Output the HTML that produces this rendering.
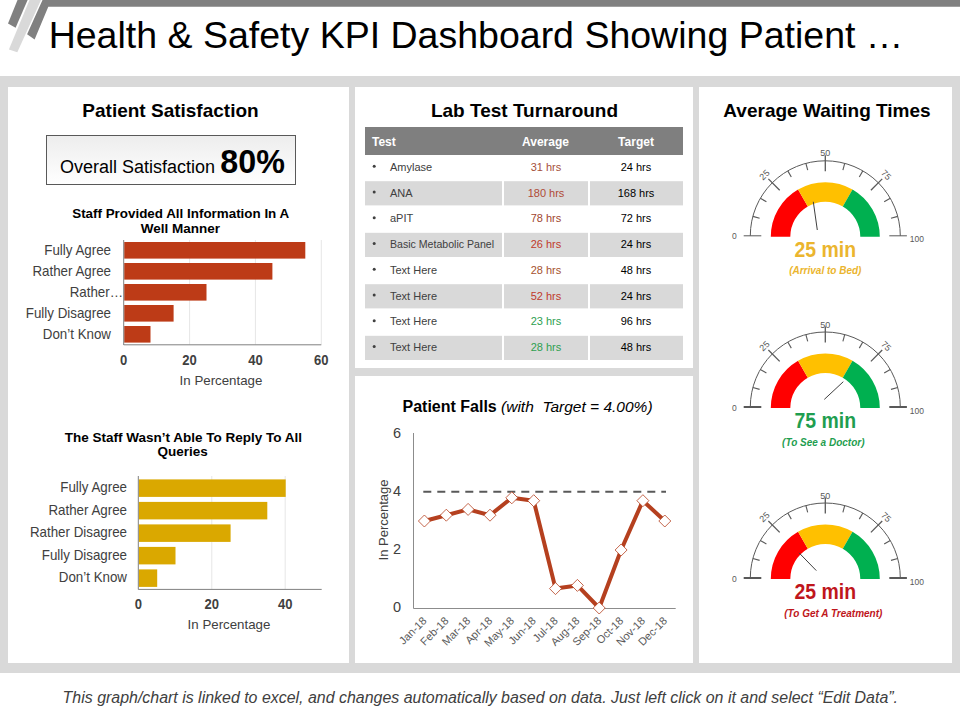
<!DOCTYPE html>
<html><head><meta charset="utf-8"><style>html,body{margin:0;padding:0;background:#fff;width:960px;height:720px;overflow:hidden}svg{display:block}text{font-family:"Liberation Sans",sans-serif}</style></head>
<body><svg width="960" height="720" viewBox="0 0 960 720">
<polygon points="17.5,0 27.6,0 15.6,27.7 8,23.4" fill="#808080"/>
<polygon points="29.5,0 41,0 17.3,52.2 8.9,49.5" fill="#D9D9D9"/>
<polygon points="42.5,0 960,0 960,6.7 48.3,6.7 34.6,39.6 27.1,34.2" fill="#808080"/>
<text x="48.7" y="47.5"  font-size="37.5" fill="#000">Health &amp; Safety KPI Dashboard Showing Patient …</text>
<rect x="0" y="76" width="960" height="597" fill="#D9D9D9"/>
<rect x="8" y="87" width="341" height="576" fill="#fff"/>
<rect x="355" y="87" width="338" height="281" fill="#fff"/>
<rect x="355" y="376" width="338" height="287" fill="#fff"/>
<rect x="699" y="87" width="253" height="576" fill="#fff"/>
<text x="62.6" y="702.5"  font-size="15.94" font-style="italic" fill="#404040">This graph/chart is linked to excel, and changes automatically based on data. Just left click on it and select “Edit Data”.</text>
<text x="170.5" y="117"  font-size="19" font-weight="bold" text-anchor="middle" fill="#000">Patient Satisfaction</text>
<defs><linearGradient id="g1" x1="0" y1="0" x2="0" y2="1"><stop offset="0" stop-color="#EDEDED"/><stop offset="1" stop-color="#FFFFFF"/></linearGradient></defs>
<rect x="46.5" y="135.5" width="249" height="49" fill="url(#g1)" stroke="#595959" stroke-width="1"/>
<text x="60" y="173"  font-size="18" fill="#000">Overall Satisfaction</text>
<text transform="translate(220.3,173.3) scale(0.95,1)" x="0" y="0"  font-size="34" font-weight="bold" fill="#000">80%</text>
<text x="180.7" y="218.4"  font-size="13.4" font-weight="bold" text-anchor="middle" fill="#000">Staff Provided All Information In A</text>
<text x="180.3" y="233"  font-size="13.5" font-weight="bold" text-anchor="middle" fill="#000">Well Manner</text>
<line x1="189.6" y1="240" x2="189.6" y2="344.5" stroke="#E6E6E6" stroke-width="1"/>
<line x1="255.4" y1="240" x2="255.4" y2="344.5" stroke="#E6E6E6" stroke-width="1"/>
<line x1="321.3" y1="240" x2="321.3" y2="344.5" stroke="#E6E6E6" stroke-width="1"/>
<rect x="124.2" y="242.0" width="181.1" height="16.6" fill="#BD3B17"/>
<text transform="translate(111.0,254.7) scale(0.94,1)" x="0" y="0"  font-size="14.2" text-anchor="end" fill="#404040">Fully Agree</text>
<rect x="124.2" y="263.0" width="148.2" height="16.6" fill="#BD3B17"/>
<text transform="translate(111.0,275.8) scale(0.94,1)" x="0" y="0"  font-size="14.2" text-anchor="end" fill="#404040">Rather Agree</text>
<rect x="124.2" y="284.0" width="82.3" height="16.6" fill="#BD3B17"/>
<text transform="translate(123.0,297.0) scale(0.94,1)" x="0" y="0"  font-size="14.2" text-anchor="end" fill="#404040">Rather…</text>
<rect x="124.2" y="305.0" width="49.4" height="16.6" fill="#BD3B17"/>
<text transform="translate(111.0,318.1) scale(0.94,1)" x="0" y="0"  font-size="14.2" text-anchor="end" fill="#404040">Fully Disagree</text>
<rect x="124.2" y="326.0" width="26.3" height="16.6" fill="#BD3B17"/>
<text transform="translate(111.0,339.3) scale(0.94,1)" x="0" y="0"  font-size="14.2" text-anchor="end" fill="#404040">Don’t Know</text>
<line x1="123.7" y1="240" x2="123.7" y2="345" stroke="#808080" stroke-width="1"/>
<line x1="123.7" y1="344.8" x2="321.3" y2="344.8" stroke="#808080" stroke-width="1"/>
<text transform="translate(123.7,365.3) scale(0.9,1)" x="0" y="0"  font-size="14.5" font-weight="bold" text-anchor="middle" fill="#404040">0</text>
<text transform="translate(189.6,365.3) scale(0.9,1)" x="0" y="0"  font-size="14.5" font-weight="bold" text-anchor="middle" fill="#404040">20</text>
<text transform="translate(255.4,365.3) scale(0.9,1)" x="0" y="0"  font-size="14.5" font-weight="bold" text-anchor="middle" fill="#404040">40</text>
<text transform="translate(321.3,365.3) scale(0.9,1)" x="0" y="0"  font-size="14.5" font-weight="bold" text-anchor="middle" fill="#404040">60</text>
<text x="221" y="385"  font-size="13.3" text-anchor="middle" fill="#404040">In Percentage</text>
<text x="183.4" y="441.8"  font-size="13.5" font-weight="bold" text-anchor="middle" fill="#000">The Staff Wasn’t Able To Reply To All</text>
<text x="182.7" y="456.1"  font-size="13.5" font-weight="bold" text-anchor="middle" fill="#000">Queries</text>
<line x1="211.8" y1="476" x2="211.8" y2="589" stroke="#E6E6E6" stroke-width="1"/>
<line x1="285.2" y1="476" x2="285.2" y2="589" stroke="#E6E6E6" stroke-width="1"/>
<rect x="138.8" y="479.4" width="146.9" height="17.5" fill="#DAA800"/>
<text transform="translate(127.0,492.1) scale(0.94,1)" x="0" y="0"  font-size="14.2" text-anchor="end" fill="#404040">Fully Agree</text>
<rect x="138.8" y="501.9" width="128.5" height="17.5" fill="#DAA800"/>
<text transform="translate(127.0,514.7) scale(0.94,1)" x="0" y="0"  font-size="14.2" text-anchor="end" fill="#404040">Rather Agree</text>
<rect x="138.8" y="524.4" width="91.8" height="17.5" fill="#DAA800"/>
<text transform="translate(127.0,537.2) scale(0.94,1)" x="0" y="0"  font-size="14.2" text-anchor="end" fill="#404040">Rather Disagree</text>
<rect x="138.8" y="546.9" width="36.7" height="17.5" fill="#DAA800"/>
<text transform="translate(127.0,559.8) scale(0.94,1)" x="0" y="0"  font-size="14.2" text-anchor="end" fill="#404040">Fully Disagree</text>
<rect x="138.8" y="569.4" width="18.4" height="17.5" fill="#DAA800"/>
<text transform="translate(127.0,582.4) scale(0.94,1)" x="0" y="0"  font-size="14.2" text-anchor="end" fill="#404040">Don’t Know</text>
<line x1="138.3" y1="476" x2="138.3" y2="589.5" stroke="#808080" stroke-width="1"/>
<line x1="138.3" y1="589.4" x2="321.7" y2="589.4" stroke="#808080" stroke-width="1"/>
<text transform="translate(138.3,609.3) scale(0.9,1)" x="0" y="0"  font-size="14.5" font-weight="bold" text-anchor="middle" fill="#404040">0</text>
<text transform="translate(211.8,609.3) scale(0.9,1)" x="0" y="0"  font-size="14.5" font-weight="bold" text-anchor="middle" fill="#404040">20</text>
<text transform="translate(285.2,609.3) scale(0.9,1)" x="0" y="0"  font-size="14.5" font-weight="bold" text-anchor="middle" fill="#404040">40</text>
<text x="229" y="629"  font-size="13.3" text-anchor="middle" fill="#404040">In Percentage</text>
<text x="524.5" y="117"  font-size="19" font-weight="bold" text-anchor="middle" fill="#000">Lab Test Turnaround</text>
<rect x="365" y="127" width="318" height="28" fill="#7F7F7F"/>
<text x="372" y="145.5"  font-size="12" font-weight="bold" fill="#fff">Test</text>
<text x="545.5" y="145.5"  font-size="12" font-weight="bold" text-anchor="middle" fill="#fff">Average</text>
<text x="636" y="145.5"  font-size="12" font-weight="bold" text-anchor="middle" fill="#fff">Target</text>
<circle cx="374.2" cy="166.3" r="1.5" fill="#404040"/>
<text x="390" y="170.9"  font-size="11" fill="#404040" >Amylase</text>
<text x="546" y="170.9"  font-size="11" text-anchor="middle" fill="#A5503A">31 hrs</text>
<text x="636" y="170.9"  font-size="11" text-anchor="middle" fill="#000">24 hrs</text>
<rect x="365" y="181.2" width="137" height="24.2" fill="#D9D9D9"/>
<rect x="504" y="181.2" width="84" height="24.2" fill="#D9D9D9"/>
<rect x="590" y="181.2" width="93" height="24.2" fill="#D9D9D9"/>
<circle cx="374.2" cy="192.1" r="1.5" fill="#404040"/>
<text x="390" y="196.6"  font-size="11" fill="#404040" >ANA</text>
<text x="546" y="196.6"  font-size="11" text-anchor="middle" fill="#B04A36">180 hrs</text>
<text x="636" y="196.6"  font-size="11" text-anchor="middle" fill="#000">168 hrs</text>
<circle cx="374.2" cy="217.8" r="1.5" fill="#404040"/>
<text x="390" y="222.4"  font-size="11" fill="#404040" >aPIT</text>
<text x="546" y="222.4"  font-size="11" text-anchor="middle" fill="#A0462E">78 hrs</text>
<text x="636" y="222.4"  font-size="11" text-anchor="middle" fill="#000">72 hrs</text>
<rect x="365" y="232.8" width="137" height="24.2" fill="#D9D9D9"/>
<rect x="504" y="232.8" width="84" height="24.2" fill="#D9D9D9"/>
<rect x="590" y="232.8" width="93" height="24.2" fill="#D9D9D9"/>
<circle cx="374.2" cy="243.6" r="1.5" fill="#404040"/>
<text x="390" y="248.1"  font-size="11" fill="#404040" textLength='104' lengthAdjust='spacingAndGlyphs'>Basic Metabolic Panel</text>
<text x="546" y="248.1"  font-size="11" text-anchor="middle" fill="#C0392B">26 hrs</text>
<text x="636" y="248.1"  font-size="11" text-anchor="middle" fill="#000">24 hrs</text>
<circle cx="374.2" cy="269.3" r="1.5" fill="#404040"/>
<text x="390" y="273.9"  font-size="11" fill="#404040" >Text Here</text>
<text x="546" y="273.9"  font-size="11" text-anchor="middle" fill="#A5522E">28 hrs</text>
<text x="636" y="273.9"  font-size="11" text-anchor="middle" fill="#000">48 hrs</text>
<rect x="365" y="284.2" width="137" height="24.2" fill="#D9D9D9"/>
<rect x="504" y="284.2" width="84" height="24.2" fill="#D9D9D9"/>
<rect x="590" y="284.2" width="93" height="24.2" fill="#D9D9D9"/>
<circle cx="374.2" cy="295.1" r="1.5" fill="#404040"/>
<text x="390" y="299.6"  font-size="11" fill="#404040" >Text Here</text>
<text x="546" y="299.6"  font-size="11" text-anchor="middle" fill="#C0392B">52 hrs</text>
<text x="636" y="299.6"  font-size="11" text-anchor="middle" fill="#000">24 hrs</text>
<circle cx="374.2" cy="320.8" r="1.5" fill="#404040"/>
<text x="390" y="325.4"  font-size="11" fill="#404040" >Text Here</text>
<text x="546" y="325.4"  font-size="11" text-anchor="middle" fill="#2EA050">23 hrs</text>
<text x="636" y="325.4"  font-size="11" text-anchor="middle" fill="#000">96 hrs</text>
<rect x="365" y="335.8" width="137" height="24.2" fill="#D9D9D9"/>
<rect x="504" y="335.8" width="84" height="24.2" fill="#D9D9D9"/>
<rect x="590" y="335.8" width="93" height="24.2" fill="#D9D9D9"/>
<circle cx="374.2" cy="346.6" r="1.5" fill="#404040"/>
<text x="390" y="351.1"  font-size="11" fill="#404040" >Text Here</text>
<text x="546" y="351.1"  font-size="11" text-anchor="middle" fill="#2EA050">28 hrs</text>
<text x="636" y="351.1"  font-size="11" text-anchor="middle" fill="#000">48 hrs</text>
<text x="402.5" y="411.5"  font-size="16" fill="#000"><tspan font-weight="bold">Patient Falls</tspan><tspan font-style="italic" font-size="15.5"> (with&#160; Target = 4.00%)</tspan></text>
<line x1="413.5" y1="433" x2="413.5" y2="608.5" stroke="#8C8C8C" stroke-width="1"/>
<line x1="413.5" y1="608.5" x2="675.7" y2="608.5" stroke="#8C8C8C" stroke-width="1"/>
<text x="401" y="611.8"  font-size="14.5" text-anchor="end" fill="#404040">0</text>
<text x="401" y="553.8"  font-size="14.5" text-anchor="end" fill="#404040">2</text>
<text x="401" y="495.8"  font-size="14.5" text-anchor="end" fill="#404040">4</text>
<text x="401" y="437.8"  font-size="14.5" text-anchor="end" fill="#404040">6</text>
<text transform="translate(388,520) rotate(-90)" x="0" y="0"  font-size="13" text-anchor="middle" fill="#404040">In Percentage</text>
<line x1="423.3" y1="491.8" x2="666" y2="491.8" stroke="#595959" stroke-width="2" stroke-dasharray="8,6"/>
<polyline points="424.4,521.0 446.3,515.2 468.1,509.4 490.0,515.2 511.8,497.8 533.7,500.7 555.5,588.6 577.4,585.4 599.2,608.0 621.1,550.0 642.9,500.7 664.8,521.0" fill="none" stroke="#B5401F" stroke-width="4" stroke-linejoin="round"/>
<polygon points="424.4,515.0 430.4,521.0 424.4,527.0 418.4,521.0" fill="#fff" stroke="#B5401F" stroke-width="0.8"/>
<polygon points="446.3,509.2 452.3,515.2 446.3,521.2 440.3,515.2" fill="#fff" stroke="#B5401F" stroke-width="0.8"/>
<polygon points="468.1,503.4 474.1,509.4 468.1,515.4 462.1,509.4" fill="#fff" stroke="#B5401F" stroke-width="0.8"/>
<polygon points="490.0,509.2 496.0,515.2 490.0,521.2 484.0,515.2" fill="#fff" stroke="#B5401F" stroke-width="0.8"/>
<polygon points="511.8,491.8 517.8,497.8 511.8,503.8 505.8,497.8" fill="#fff" stroke="#B5401F" stroke-width="0.8"/>
<polygon points="533.7,494.7 539.7,500.7 533.7,506.7 527.7,500.7" fill="#fff" stroke="#B5401F" stroke-width="0.8"/>
<polygon points="555.5,582.6 561.5,588.6 555.5,594.6 549.5,588.6" fill="#fff" stroke="#B5401F" stroke-width="0.8"/>
<polygon points="577.4,579.4 583.4,585.4 577.4,591.4 571.4,585.4" fill="#fff" stroke="#B5401F" stroke-width="0.8"/>
<polygon points="599.2,602.0 605.2,608.0 599.2,614.0 593.2,608.0" fill="#fff" stroke="#B5401F" stroke-width="0.8"/>
<polygon points="621.1,544.0 627.1,550.0 621.1,556.0 615.1,550.0" fill="#fff" stroke="#B5401F" stroke-width="0.8"/>
<polygon points="642.9,494.7 648.9,500.7 642.9,506.7 636.9,500.7" fill="#fff" stroke="#B5401F" stroke-width="0.8"/>
<polygon points="664.8,515.0 670.8,521.0 664.8,527.0 658.8,521.0" fill="#fff" stroke="#B5401F" stroke-width="0.8"/>
<text transform="translate(427.4,621.5) rotate(-45)" x="0" y="0"  font-size="11" text-anchor="end" fill="#595959">Jan-18</text>
<text transform="translate(449.3,621.5) rotate(-45)" x="0" y="0"  font-size="11" text-anchor="end" fill="#595959">Feb-18</text>
<text transform="translate(471.1,621.5) rotate(-45)" x="0" y="0"  font-size="11" text-anchor="end" fill="#595959">Mar-18</text>
<text transform="translate(493.0,621.5) rotate(-45)" x="0" y="0"  font-size="11" text-anchor="end" fill="#595959">Apr-18</text>
<text transform="translate(514.8,621.5) rotate(-45)" x="0" y="0"  font-size="11" text-anchor="end" fill="#595959">May-18</text>
<text transform="translate(536.7,621.5) rotate(-45)" x="0" y="0"  font-size="11" text-anchor="end" fill="#595959">Jun-18</text>
<text transform="translate(558.5,621.5) rotate(-45)" x="0" y="0"  font-size="11" text-anchor="end" fill="#595959">Jul-18</text>
<text transform="translate(580.4,621.5) rotate(-45)" x="0" y="0"  font-size="11" text-anchor="end" fill="#595959">Aug-18</text>
<text transform="translate(602.2,621.5) rotate(-45)" x="0" y="0"  font-size="11" text-anchor="end" fill="#595959">Sep-18</text>
<text transform="translate(624.1,621.5) rotate(-45)" x="0" y="0"  font-size="11" text-anchor="end" fill="#595959">Oct-18</text>
<text transform="translate(645.9,621.5) rotate(-45)" x="0" y="0"  font-size="11" text-anchor="end" fill="#595959">Nov-18</text>
<text transform="translate(667.8,621.5) rotate(-45)" x="0" y="0"  font-size="11" text-anchor="end" fill="#595959">Dec-18</text>
<text x="827" y="117"  font-size="19" font-weight="bold" text-anchor="middle" fill="#000">Average Waiting Times</text>
<path d="M770.80,236.80 A54.5,54.5 0 0 1 798.05,189.60 L807.80,206.49 A35,35 0 0 0 790.30,236.80Z" fill="#FF0000"/>
<path d="M798.05,189.60 A54.5,54.5 0 0 1 852.55,189.60 L842.80,206.49 A35,35 0 0 0 807.80,206.49Z" fill="#FFC000"/>
<path d="M852.55,189.60 A54.5,54.5 0 0 1 879.80,236.80 L860.30,236.80 A35,35 0 0 0 842.80,206.49Z" fill="#00B050"/>
<path d="M750.30,235.80 A75,75 0 0 1 900.30,235.80" fill="none" stroke="#595959" stroke-width="1"/>
<line x1="761.30" y1="235.80" x2="743.70" y2="235.80" stroke="#595959" stroke-width="1"/>
<line x1="759.62" y1="218.20" x2="752.86" y2="216.39" stroke="#595959" stroke-width="1.1"/>
<line x1="766.41" y1="201.80" x2="760.35" y2="198.30" stroke="#595959" stroke-width="1.1"/>
<line x1="779.69" y1="190.19" x2="768.38" y2="178.88" stroke="#595959" stroke-width="1.3"/>
<line x1="791.30" y1="176.91" x2="787.80" y2="170.85" stroke="#595959" stroke-width="1.1"/>
<line x1="807.70" y1="170.12" x2="805.89" y2="163.36" stroke="#595959" stroke-width="1.1"/>
<line x1="825.30" y1="171.30" x2="825.30" y2="155.30" stroke="#595959" stroke-width="1.3"/>
<line x1="842.90" y1="170.12" x2="844.71" y2="163.36" stroke="#595959" stroke-width="1.1"/>
<line x1="859.30" y1="176.91" x2="862.80" y2="170.85" stroke="#595959" stroke-width="1.1"/>
<line x1="870.91" y1="190.19" x2="882.22" y2="178.88" stroke="#595959" stroke-width="1.3"/>
<line x1="884.19" y1="201.80" x2="890.25" y2="198.30" stroke="#595959" stroke-width="1.1"/>
<line x1="890.98" y1="218.20" x2="897.74" y2="216.39" stroke="#595959" stroke-width="1.1"/>
<line x1="889.30" y1="235.80" x2="906.90" y2="235.80" stroke="#595959" stroke-width="1"/>
<text x="734.3" y="239.3"  font-size="8.5" text-anchor="middle" fill="#595959">0</text>
<text x="916.8" y="242.3"  font-size="8.5" text-anchor="middle" fill="#595959">100</text>
<text x="825.3" y="156.3"  font-size="9" text-anchor="middle" fill="#595959">50</text>
<text transform="translate(764.5,175.0) rotate(-45)" x="0" y="3"  font-size="9" text-anchor="middle" fill="#595959">25</text>
<text transform="translate(886.1,175.0) rotate(45)" x="0" y="3"  font-size="9" text-anchor="middle" fill="#595959">75</text>
<line x1="813.3" y1="201.8" x2="817.3" y2="230" stroke="#404040" stroke-width="1"/>
<text transform="translate(825.3,256.8) scale(0.9,1)" x="0" y="0"  font-size="21.6" font-weight="bold" text-anchor="middle" fill="#EBB52E">25 min</text>
<text x="825.3" y="274.3"  font-size="10" font-weight="bold" font-style="italic" text-anchor="middle" fill="#EBB52E">(Arrival to Bed)</text>
<path d="M770.80,408.00 A54.5,54.5 0 0 1 798.05,360.80 L807.80,377.69 A35,35 0 0 0 790.30,408.00Z" fill="#FF0000"/>
<path d="M798.05,360.80 A54.5,54.5 0 0 1 852.55,360.80 L842.80,377.69 A35,35 0 0 0 807.80,377.69Z" fill="#FFC000"/>
<path d="M852.55,360.80 A54.5,54.5 0 0 1 879.80,408.00 L860.30,408.00 A35,35 0 0 0 842.80,377.69Z" fill="#00B050"/>
<path d="M750.30,407.00 A75,75 0 0 1 900.30,407.00" fill="none" stroke="#595959" stroke-width="1"/>
<line x1="761.30" y1="407.00" x2="743.70" y2="407.00" stroke="#595959" stroke-width="2"/>
<line x1="759.62" y1="389.40" x2="752.86" y2="387.59" stroke="#595959" stroke-width="1.1"/>
<line x1="766.41" y1="373.00" x2="760.35" y2="369.50" stroke="#595959" stroke-width="1.1"/>
<line x1="779.69" y1="361.39" x2="768.38" y2="350.08" stroke="#595959" stroke-width="1.3"/>
<line x1="791.30" y1="348.11" x2="787.80" y2="342.05" stroke="#595959" stroke-width="1.1"/>
<line x1="807.70" y1="341.32" x2="805.89" y2="334.56" stroke="#595959" stroke-width="1.1"/>
<line x1="825.30" y1="342.50" x2="825.30" y2="326.50" stroke="#595959" stroke-width="1.3"/>
<line x1="842.90" y1="341.32" x2="844.71" y2="334.56" stroke="#595959" stroke-width="1.1"/>
<line x1="859.30" y1="348.11" x2="862.80" y2="342.05" stroke="#595959" stroke-width="1.1"/>
<line x1="870.91" y1="361.39" x2="882.22" y2="350.08" stroke="#595959" stroke-width="1.3"/>
<line x1="884.19" y1="373.00" x2="890.25" y2="369.50" stroke="#595959" stroke-width="1.1"/>
<line x1="890.98" y1="389.40" x2="897.74" y2="387.59" stroke="#595959" stroke-width="1.1"/>
<line x1="889.30" y1="407.00" x2="906.90" y2="407.00" stroke="#595959" stroke-width="2"/>
<text x="734.3" y="410.5"  font-size="8.5" text-anchor="middle" fill="#595959">0</text>
<text x="916.8" y="413.5"  font-size="8.5" text-anchor="middle" fill="#595959">100</text>
<text x="825.3" y="327.5"  font-size="9" text-anchor="middle" fill="#595959">50</text>
<text transform="translate(764.5,346.2) rotate(-45)" x="0" y="3"  font-size="9" text-anchor="middle" fill="#595959">25</text>
<text transform="translate(886.1,346.2) rotate(45)" x="0" y="3"  font-size="9" text-anchor="middle" fill="#595959">75</text>
<line x1="824.3" y1="399.4" x2="843.3" y2="381.7" stroke="#404040" stroke-width="1"/>
<text transform="translate(825.3,428.0) scale(0.9,1)" x="0" y="0"  font-size="21.6" font-weight="bold" text-anchor="middle" fill="#1F9E50">75 min</text>
<text x="823.3" y="445.5"  font-size="10" font-weight="bold" font-style="italic" text-anchor="middle" fill="#1F9E50">(To See a Doctor)</text>
<path d="M770.80,579.00 A54.5,54.5 0 0 1 798.05,531.80 L807.80,548.69 A35,35 0 0 0 790.30,579.00Z" fill="#FF0000"/>
<path d="M798.05,531.80 A54.5,54.5 0 0 1 852.55,531.80 L842.80,548.69 A35,35 0 0 0 807.80,548.69Z" fill="#FFC000"/>
<path d="M852.55,531.80 A54.5,54.5 0 0 1 879.80,579.00 L860.30,579.00 A35,35 0 0 0 842.80,548.69Z" fill="#00B050"/>
<path d="M750.30,578.00 A75,75 0 0 1 900.30,578.00" fill="none" stroke="#595959" stroke-width="1"/>
<line x1="761.30" y1="578.00" x2="743.70" y2="578.00" stroke="#595959" stroke-width="2"/>
<line x1="759.62" y1="560.40" x2="752.86" y2="558.59" stroke="#595959" stroke-width="1.1"/>
<line x1="766.41" y1="544.00" x2="760.35" y2="540.50" stroke="#595959" stroke-width="1.1"/>
<line x1="779.69" y1="532.39" x2="768.38" y2="521.08" stroke="#595959" stroke-width="1.3"/>
<line x1="791.30" y1="519.11" x2="787.80" y2="513.05" stroke="#595959" stroke-width="1.1"/>
<line x1="807.70" y1="512.32" x2="805.89" y2="505.56" stroke="#595959" stroke-width="1.1"/>
<line x1="825.30" y1="513.50" x2="825.30" y2="497.50" stroke="#595959" stroke-width="1.3"/>
<line x1="842.90" y1="512.32" x2="844.71" y2="505.56" stroke="#595959" stroke-width="1.1"/>
<line x1="859.30" y1="519.11" x2="862.80" y2="513.05" stroke="#595959" stroke-width="1.1"/>
<line x1="870.91" y1="532.39" x2="882.22" y2="521.08" stroke="#595959" stroke-width="1.3"/>
<line x1="884.19" y1="544.00" x2="890.25" y2="540.50" stroke="#595959" stroke-width="1.1"/>
<line x1="890.98" y1="560.40" x2="897.74" y2="558.59" stroke="#595959" stroke-width="1.1"/>
<line x1="889.30" y1="578.00" x2="906.90" y2="578.00" stroke="#595959" stroke-width="2"/>
<text x="734.3" y="581.5"  font-size="8.5" text-anchor="middle" fill="#595959">0</text>
<text x="916.8" y="584.5"  font-size="8.5" text-anchor="middle" fill="#595959">100</text>
<text x="825.3" y="498.5"  font-size="9" text-anchor="middle" fill="#595959">50</text>
<text transform="translate(764.5,517.2) rotate(-45)" x="0" y="3"  font-size="9" text-anchor="middle" fill="#595959">25</text>
<text transform="translate(886.1,517.2) rotate(45)" x="0" y="3"  font-size="9" text-anchor="middle" fill="#595959">75</text>
<line x1="799.1" y1="552.9" x2="816.3" y2="570.6" stroke="#404040" stroke-width="1"/>
<text transform="translate(825.3,599.0) scale(0.9,1)" x="0" y="0"  font-size="21.6" font-weight="bold" text-anchor="middle" fill="#C0161C">25 min</text>
<text x="833.3" y="616.5"  font-size="10" font-weight="bold" font-style="italic" text-anchor="middle" fill="#C0161C">(To Get A Treatment)</text>
</svg></body></html>
